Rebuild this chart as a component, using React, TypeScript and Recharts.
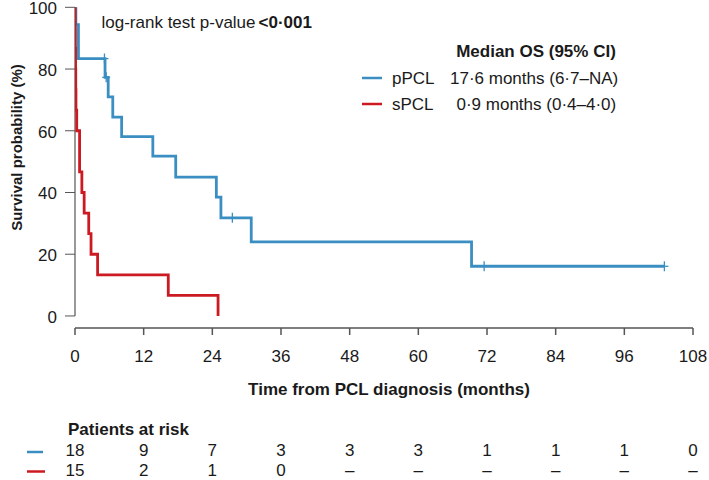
import React from 'react';
import {
  ComposedChart,
  Line,
  Scatter,
  XAxis,
  YAxis,
  ReferenceLine,
  Legend,
  Customized,
} from 'recharts';

// ---- data ----
const monthTicks = [0, 12, 24, 36, 48, 60, 72, 84, 96, 108];
const survivalTicks = [0, 20, 40, 60, 80, 100];

const pPCLTime = [0, 0.15, 0.6, 5.25, 5.8, 6.6, 8.15, 13.6, 17.6, 24.7, 25.5, 30.8, 69.3, 103];
const pPCLSurv = [100, 94.4, 83.4, 77.3, 71.0, 64.4, 58.1, 51.8, 45.0, 38.5, 31.8, 24.0, 16.1, 16.1];
const pPCLCensorTime = [5.15, 5.45, 27.5, 71.5, 103];
const pPCLCensorSurv = [83.4, 77.3, 31.8, 16.1, 16.1];

const sPCLTime = [0, 0.04, 0.07, 0.1, 0.13, 0.17, 0.3, 0.8, 1.2, 1.6, 2.4, 2.8, 3.95, 16.3, 25.0];
const sPCLSurv = [100, 93.3, 86.7, 80, 73.3, 66.7, 60, 46.7, 40, 33.3, 26.7, 20, 13.3, 6.7, 0];

const riskPPCL = ['18', '9', '7', '3', '3', '3', '1', '1', '1', '0'];
const riskSPCL = ['15', '2', '1', '0', '–', '–', '–', '–', '–', '–'];

const seriesNames = ['pPCL', 'sPCL'];
const medianText = ['17·6 months (6·7–NA)', '0·9 months (0·4–4·0)'];

const BLUE = '#3a8ec2';
const RED = '#cc1a22';
const FONT = "'Liberation Sans', Arial, Helvetica, sans-serif";
const TEXT = '#1a1a1a';
const AXIS = '#555555';

const pData = pPCLTime.map((t, i) => ({ t, s: pPCLSurv[i] }));
const pCensor = pPCLCensorTime.map((t, i) => ({ t, s: pPCLCensorSurv[i] }));
const sData = sPCLTime.map((t, i) => ({ t, s: sPCLSurv[i] }));

const CensorMark = (props: any) => {
  const { cx, cy } = props;
  if (cx == null || cy == null) return null;
  return (
    <g>
      <line x1={cx} y1={cy - 5} x2={cx} y2={cy + 5} stroke={BLUE} strokeWidth={1.3} />
      <line x1={cx - 4} y1={cy} x2={cx + 4} y2={cy} stroke={BLUE} strokeWidth={1.3} />
    </g>
  );
};

const YTick = (props: any) => {
  const { x, y, payload } = props;
  return (
    <text
      x={x}
      y={y + 1.4}
      textAnchor="end"
      dominantBaseline="central"
      fontFamily={FONT}
      fontSize={17}
      fill={TEXT}
    >
      {payload.value}
    </text>
  );
};

const LegendBox = (props: any) => {
  const payload = (props.payload || []).filter((e: any) => seriesNames.includes(e.value));
  return (
    <svg width={300} height={90} style={{ overflow: 'visible', display: 'block' }}>
      <text x={186} y={27} textAnchor="middle" fontFamily={FONT} fontSize={17} fontWeight="bold" fill={TEXT}>
        Median OS (95% CI)
      </text>
      {payload.map((e: any, i: number) => {
        const y = 48 + i * 26;
        return (
          <g key={e.value}>
            <line x1={12} y1={y} x2={32} y2={y} stroke={e.color} strokeWidth={2.5} />
            <text x={42} y={y + 6} fontFamily={FONT} fontSize={17} fill={TEXT}>
              {e.value}
            </text>
            <text x={i === 0 ? 100 : 106.5} y={y + 6} fontFamily={FONT} fontSize={17} fill={TEXT}>
              {medianText[i]}
            </text>
          </g>
        );
      })}
    </svg>
  );
};

const Annotations = () => (
  <g fontFamily={FONT} fill={TEXT}>
    <text x={101.5} y={28} fontSize={17} fill={TEXT}>
      log-rank test p-value
      <tspan dx={3} fontWeight="bold">{'<0·001'}</tspan>
    </text>
    <text
      x={16.5}
      y={147.5}
      transform="rotate(-90 16.5 147.5)"
      textAnchor="middle"
      dominantBaseline="central"
      fontSize={15}
      fontWeight="bold"
      fill={TEXT}
    >
      Survival probability (%)
    </text>
    <text x={389} y={395} textAnchor="middle" fontSize={17} fontWeight="bold" fill={TEXT}>
      Time from PCL diagnosis (months)
    </text>
    <text x={68} y={435} fontSize={17} fontWeight="bold" fill={TEXT}>
      Patients at risk
    </text>
    <line x1={27} y1={452} x2={43} y2={452} stroke={BLUE} strokeWidth={2.5} />
    <line x1={27} y1={471.5} x2={45} y2={471.5} stroke={RED} strokeWidth={2.5} />
  </g>
);

export default function App() {
  return (
    <div style={{ position: 'absolute', left: 0, top: 0, width: 709, height: 480, background: '#fff' }}>
      <ComposedChart
        width={709}
        height={480}
        margin={{ top: 7.3, right: 16, left: 15, bottom: 0 }}
      >
        <XAxis
          xAxisId="main"
          type="number"
          dataKey="t"
          domain={[0, 108]}
          ticks={monthTicks}
          interval={0}
          allowDataOverflow
          height={116}
          tickSize={7}
          tickMargin={15}
          stroke={AXIS}
          strokeWidth={1.5}
          tick={{ fill: TEXT, fontSize: 17, fontFamily: FONT }}
        />
        <XAxis
          xAxisId="riskP"
          type="number"
          dataKey="t"
          domain={[0, 108]}
          ticks={monthTicks}
          interval={0}
          allowDataOverflow
          height={20}
          axisLine={false}
          tickLine={false}
          tickSize={0}
          tickMargin={0}
          tickFormatter={(v: number) => riskPPCL[monthTicks.indexOf(v)]}
          tick={{ fill: TEXT, fontSize: 17, fontFamily: FONT }}
        />
        <XAxis
          xAxisId="riskS"
          type="number"
          dataKey="t"
          domain={[0, 108]}
          ticks={monthTicks}
          interval={0}
          allowDataOverflow
          height={16}
          axisLine={false}
          tickLine={false}
          tickSize={0}
          tickMargin={0}
          tickFormatter={(v: number) => riskSPCL[monthTicks.indexOf(v)]}
          tick={{ fill: TEXT, fontSize: 17, fontFamily: FONT }}
        />
        <YAxis
          type="number"
          domain={[-3.9, 100]}
          ticks={survivalTicks}
          interval={0}
          allowDataOverflow
          width={60}
          axisLine={false}
          tickSize={10}
          tickMargin={8}
          stroke={AXIS}
          tick={<YTick />}
        />
        <ReferenceLine
          xAxisId="main"
          segment={[{ x: 0, y: 0 }, { x: 0, y: 100 }]}
          stroke={AXIS}
          strokeWidth={1.2}
          ifOverflow="visible"
        />
        <Line
          xAxisId="main"
          data={pData}
          dataKey="s"
          name="pPCL"
          type="stepAfter"
          stroke={BLUE}
          strokeWidth={2.8}
          dot={false}
          activeDot={false}
          isAnimationActive={false}
        />
        <Scatter
          xAxisId="main"
          data={pCensor}
          dataKey="s"
          name="pPCL censored"
          legendType="none"
          shape={<CensorMark />}
          isAnimationActive={false}
        />
        <Line
          xAxisId="main"
          data={sData}
          dataKey="s"
          name="sPCL"
          type="stepAfter"
          stroke={RED}
          strokeWidth={2.8}
          dot={false}
          activeDot={false}
          isAnimationActive={false}
        />
        <Legend
          layout="horizontal"
          verticalAlign="middle"
          align="center"
          content={<LegendBox />}
          wrapperStyle={{ position: 'absolute', left: 350, top: 30, width: 300, height: 90 }}
        />
        <Customized component={<Annotations />} />
      </ComposedChart>
    </div>
  );
}
